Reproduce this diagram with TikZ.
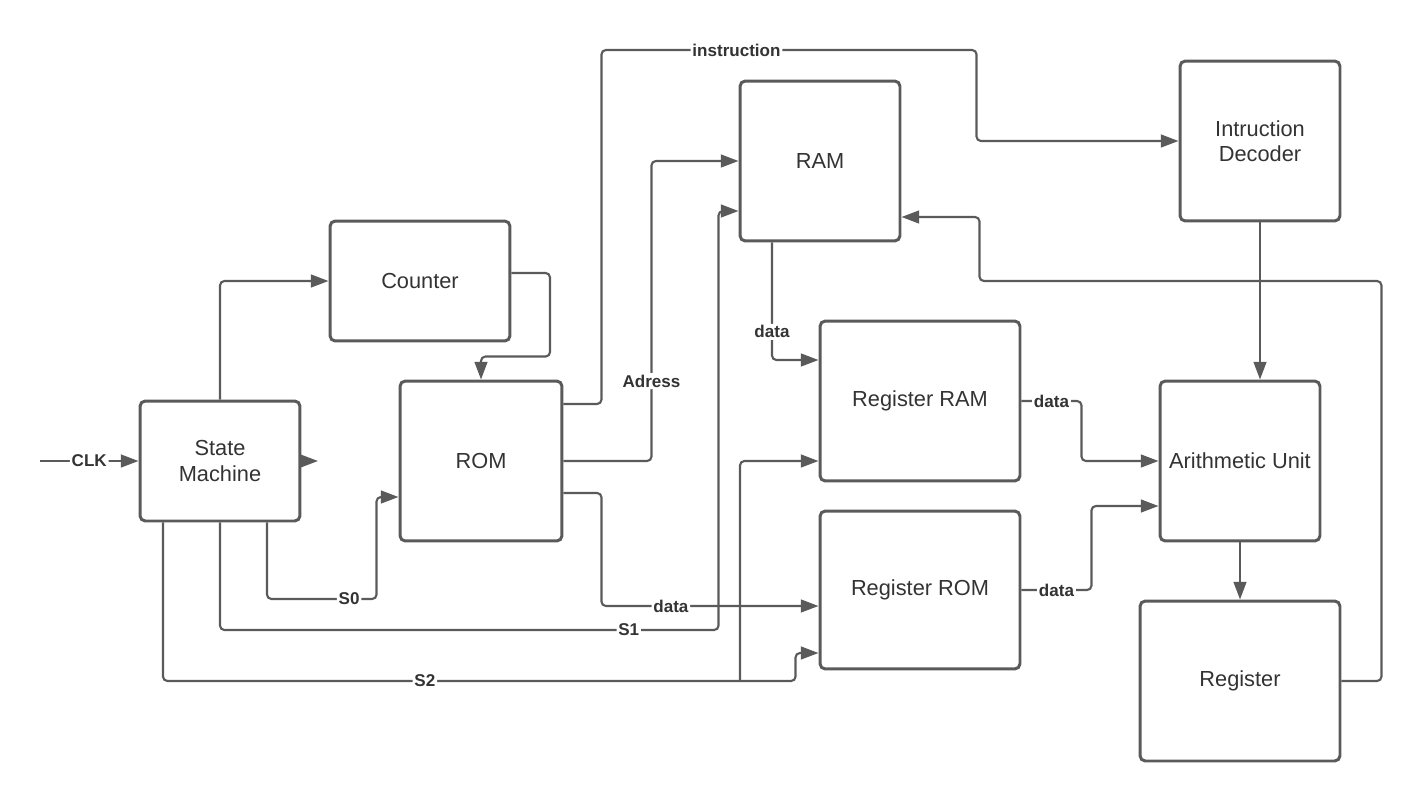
\documentclass[tikz,border=0pt]{standalone}
\usepackage{fontspec}
\setmainfont{Liberation Sans}
\usetikzlibrary{arrows.meta, positioning}
\usetikzlibrary{calc}

\definecolor{linegray}{HTML}{5A5A5A}
\definecolor{textgray}{HTML}{333333}

\begin{document}
\begin{tikzpicture}[
      x=0.02cm,
      y=-0.02cm,
      block/.style={
          rectangle,
          draw=linegray,
          line width=1.7pt,
          rounded corners=3pt,
          align=center,
          text=textgray,
          font=\fontsize{12.4}{14.5}\selectfont,
          inner sep=0pt,
          minimum width=3.2cm,
          minimum height=3.2cm
        },
      lbl/.style={
          fill=white,
          inner sep=1pt,
          text=textgray,
          font=\fontsize{9.7}{11}\selectfont\bfseries
        },
      arrow/.style={
          -{Triangle[length=10pt,width=7.2pt]},
          draw=linegray,
          line width=1.2pt,
          rounded corners=2.5pt
        }
    ]

    \useasboundingbox (0,0) rectangle (1423,801);

    % Nodes
    \node[block, minimum height=2.4cm] (sm) at (220,461) {State\\Machine};
    \node[block, minimum width=3.6cm, minimum height=2.4cm] (counter) at (420,281) {Counter};
    \node[block, minimum width=3.24cm] (rom) at (481,461) {ROM};
    \node[block] (ram) at (820,161) {RAM};
    \node[block, minimum width=4cm] (regram) at (920,401) {Register RAM};
    \node[block, minimum width=4cm, minimum height=3.16cm] (regrom) at (920,590) {Register ROM};
    \node[block] (decoder) at (1260,141) {Intruction\\Decoder};
    \node[block] (alu) at (1240,461) {Arithmetic Unit};
    \node[block, minimum width=4cm] (reg) at (1240,681) {Register};
    \coordinate (clk) at (40,461);
    \coordinate (smout) at (318,461);
    \coordinate (s2split) at (740,681);

    % Arrows
    \draw[arrow] (clk) -- node[lbl]{CLK} (sm.west);
    \draw[arrow] (sm.east) -- (smout);
    \draw[arrow] (sm.north) |- (counter.west);
    \draw[arrow] ($(counter.east)+(0,-8)$) -| ($(rom.north)+(69,-23)$) -| (rom.north);
    \draw[arrow] ($(sm.south)+(47,0)$) |- node[lbl, pos=.875]{S0} ($(rom.west)+(-22,138)$) |- ($(rom.west)+(0,36)$);
    \draw[arrow] (sm.south) |- node[lbl, pos=.91]{S1} ($(ram.west)+(-20,469)$) |- ($(ram.west)+(0,50)$);
    \draw[arrow] ($(sm.south)+(-57,0)$) |- node[lbl, pos=.707]{S2} ($(regrom.west)+(-23,91)$) |- ($(regrom.west)+(0,63)$);
    \draw[arrow] (s2split) |- ($(regram.west)+(0,60)$);
    \draw[arrow] ($(rom.east)+(0,-57)$) -- ++(38,0) |- node[lbl, pos=.68]{instruction} ($(decoder.west)+(-202,-91)$) |- (decoder.west);
    \draw[arrow] (rom.east) -- ++(88,0) |- node[lbl, pos=.133]{Adress} (ram.west);
    \draw[arrow] ($(rom.east)+(0,32)$) -- ++(38,0) |- node[lbl, pos=.66]{data} ($(regrom.west)+(0,16)$);
    \draw[arrow] ($(ram.south)+(-48,0)$) |- node[lbl, pos=.38]{data} ($(regram.west)+(0,-41)$);
    \draw[arrow] (regram.east) -- node[lbl]{data} ++(60,0) |- (alu.west);
    \draw[arrow] (regrom.east) -- node[lbl]{data} ++(70,0) |- ($(alu.west)+(0,45)$);
    \draw[arrow] (decoder.south) -- (decoder.south |- alu.north);
    \draw[arrow] (alu.south) -- (reg.north);
    \draw[arrow] (reg.east) -- ++(40,0) |- ++(-402,-400) |- ($(ram.east)+(0,56)$);

  \end{tikzpicture}
\end{document}
